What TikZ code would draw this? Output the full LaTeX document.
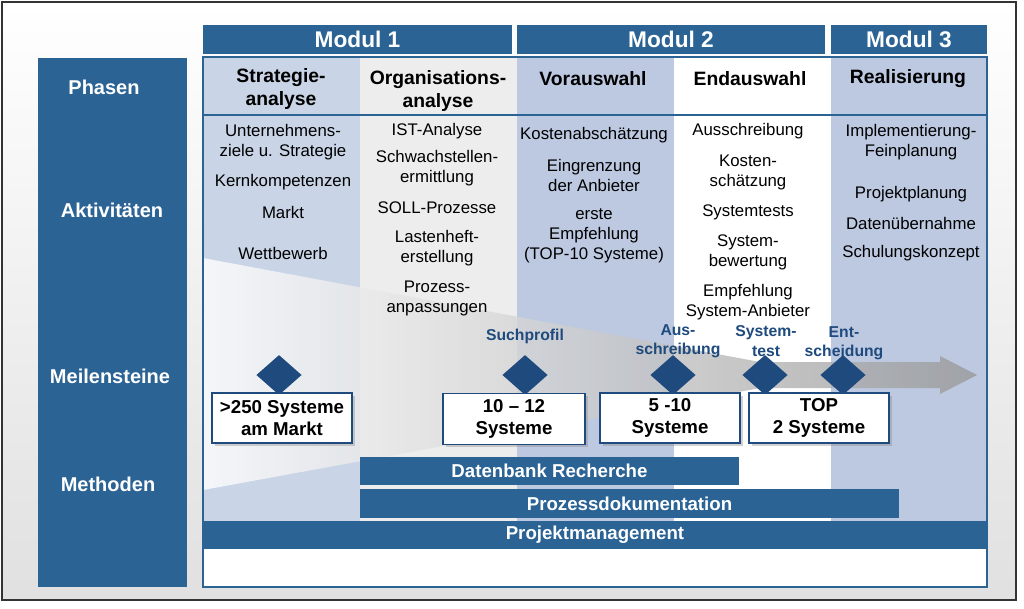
\documentclass[tikz,border=0pt]{standalone}
\usepackage{fontspec}
\setmainfont{Liberation Sans}
\usetikzlibrary{shapes.geometric,shadows}
\definecolor{dblue}{HTML}{2B6394}
\definecolor{lblue}{HTML}{BCC9E1}
\definecolor{mile}{HTML}{1E4A7E}
\begin{document}
\begin{tikzpicture}[x=0.75pt,y=-0.75pt,
 act/.style={align=center,font=\fontsize{12.6}{15}\selectfont,inner sep=0pt},
 phase/.style={align=center,font=\fontsize{14.5}{17}\selectfont\bfseries,inner sep=0pt},
 side/.style={text=white,font=\fontsize{15}{17}\selectfont\bfseries},
 modul/.style={fill=dblue,draw=none,text=white,font=\fontsize{17}{19}\selectfont\bfseries},
 bar/.style={fill=dblue,text=white,font=\fontsize{14}{16}\selectfont\bfseries},
 ms/.style={text=mile,align=center,font=\fontsize{11.8}{14.5}\selectfont\bfseries,inner sep=0pt},
 dia/.style={diamond,fill=mile,minimum width=34,minimum height=30,inner sep=0pt},
 box/.style={draw=mile,line width=1.2pt,fill=white,align=center,font=\fontsize{14}{16.5}\selectfont\bfseries,drop shadow={opacity=0.35,shadow xshift=2pt,shadow yshift=-2pt}}]
\useasboundingbox (0,0) rectangle (1024,608);
\shade[top color=white,bottom color=black!12] (2,2) rectangle (1016,600);
\draw[black!80,line width=1pt] (2,2) rectangle (1016,600);
% side column
\fill[dblue] (38,58) rectangle (187,587);
\node[side] (ph) at (104,87) {Phasen};
\node[side] (ak) at (112,210) {Aktivitäten};
\node[side] (me) at (110,376) {Meilensteine};
\node[side] (mt) at (108,484) {Methoden};
% modules
\node[modul,minimum width=309*0.75pt,minimum height=29*0.75pt] (m1) at (357.5,39) {Modul 1};
\node[modul,minimum width=308*0.75pt,minimum height=29*0.75pt] (m2) at (671,39) {Modul 2};
\node[modul,minimum width=156*0.75pt,minimum height=29*0.75pt] (m3) at (909,39) {Modul 3};
% columns
\fill[lblue!80] (203,57) rectangle (360,587);
\fill[black!7] (360,57) rectangle (517,587);
\fill[lblue] (517,57) rectangle (674,587);
\fill[white] (674,57) rectangle (831,587);
\fill[lblue] (831,57) rectangle (987,587);
\fill[white] (203,549) rectangle (987,587);
% funnel arrow
\shade[left color=white,right color=black!40,opacity=0.8]
 (203,258) -- (760,362) -- (940,362) -- (940,356) -- (977,375) -- (940,394) -- (940,388) -- (760,388) -- (203,490) -- cycle;
\draw[dblue,line width=1pt] (203,115) -- (987,115);
% phases
\node[phase] (p1) at (281,89) {Strategie-\\analyse};
\node[phase] (p2) at (438,91) {Organisations-\\analyse};
\node[phase] (p3) at (593,79) {Vorauswahl};
\node[phase] (p4) at (750,79) {Endauswahl};
\node[phase] (p5) at (908,79) {Realisierung};
% activities
\node[act] (a11) at (283,142) {Unternehmens-\\ziele u. Strategie};
\node[act] (a12) at (283,182) {Kernkompetenzen};
\node[act] (a13) at (283,212) {Markt};
\node[act] (a14) at (283,253) {Wettbewerb};
\node[act] (a21) at (437,131) {IST-Analyse};
\node[act] (a22) at (437,168) {Schwachstellen-\\ermittlung};
\node[act] (a23) at (437,208) {SOLL-Prozesse};
\node[act] (a24) at (437,248) {Lastenheft-\\erstellung};
\node[act] (a25) at (437,298) {Prozess-\\anpassungen};
\node[act] (a31) at (594,135) {Kostenabschätzung};
\node[act] (a32) at (594,175) {Eingrenzung\\der Anbieter};
\node[act] (a33) at (594,236) {erste\\Empfehlung\\(TOP-10 Systeme)};
\node[act] (a41) at (748,131) {Ausschreibung};
\node[act] (a42) at (748,172) {Kosten-\\schätzung};
\node[act] (a43) at (748,212) {Systemtests};
\node[act] (a44) at (748,252) {System-\\bewertung};
\node[act] (a45) at (748,302) {Empfehlung\\System-Anbieter};
\node[act] (a51) at (911,142) {Implementierung-\\Feinplanung};
\node[act] (a52) at (911,194) {Projektplanung};
\node[act] (a53) at (911,223) {Datenübernahme};
\node[act] (a54) at (911,253) {Schulungskonzept};
% milestones
\node[ms] (l1) at (525,336) {Suchprofil};
\node[ms] (l2) at (678,341) {Aus-\\schreibung};
\node[ms] (l3) at (766,341) {System-\\test};
\node[ms] (l4) at (844,343) {Ent-\\scheidung};
\foreach \x/\n in {279/d1,525/d2,673/d3,765/d4,843/d5} \node[dia] (\n) at (\x,375) {};
\node[box,minimum width=140*0.75pt,minimum height=50*0.75pt] (b1) at (282,418) {>250 Systeme\\am Markt};
\node[box,minimum width=142*0.75pt,minimum height=51*0.75pt] (b2) at (514,419) {10 – 12\\Systeme};
\node[box,minimum width=140*0.75pt,minimum height=50*0.75pt] (b3) at (670,418) {5 -10\\Systeme};
\node[box,minimum width=140*0.75pt,minimum height=50*0.75pt] (b4) at (819,418) {TOP\\2 Systeme};
% bars
\node[bar,minimum width=379*0.75pt,minimum height=28*0.75pt,inner sep=0pt] (r1) at (549.5,471) {Datenbank Recherche};
\node[bar,minimum width=539*0.75pt,minimum height=29*0.75pt,inner sep=0pt] (r2) at (629.5,503.5) {Prozessdokumentation};
\node[bar,minimum width=784*0.75pt,minimum height=28*0.75pt,inner sep=0pt] (r3) at (595,535) {Projektmanagement};
\draw[dblue,line width=1pt] (203,57) rectangle (987,587);
\end{tikzpicture}
\end{document}
